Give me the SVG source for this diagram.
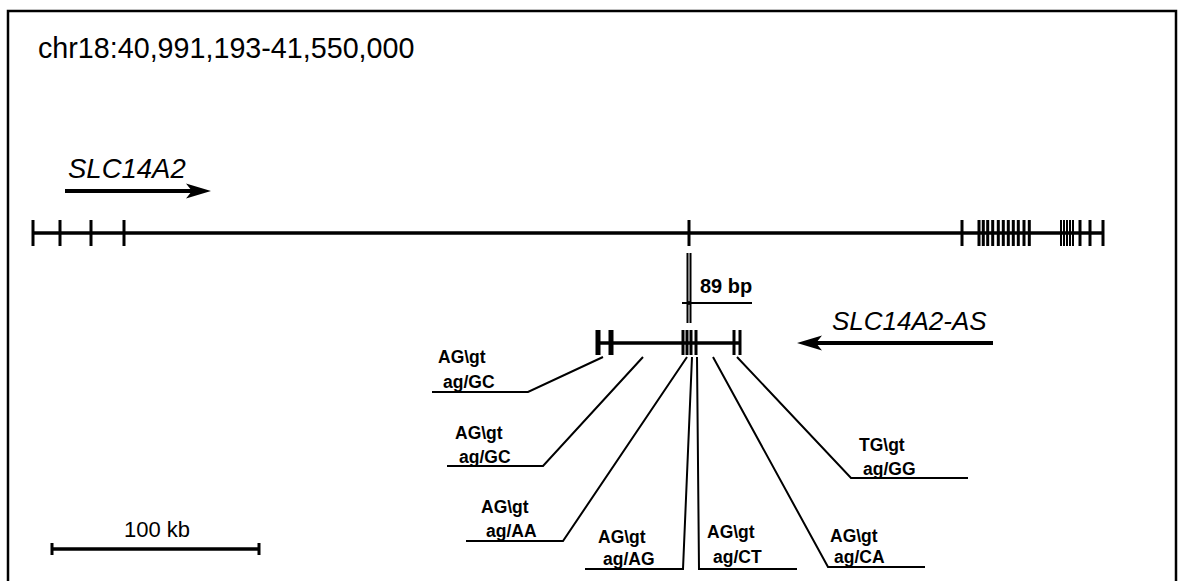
<svg xmlns="http://www.w3.org/2000/svg" width="1178" height="581" viewBox="0 0 1178 581">
<defs>
<style>
.ln{stroke:#000;fill:none}
.main{stroke-width:3.5}
.tk{stroke-width:3}
.thin{stroke-width:2}
.lbl{font-family:"Liberation Sans",Arial,sans-serif;font-weight:bold;font-size:17.5px;fill:#000}
.ital{font-family:"Liberation Sans",Arial,sans-serif;font-style:italic;font-size:26px;fill:#000}
.reg{font-family:"Liberation Sans",Arial,sans-serif;font-size:24px;fill:#000}
.head{fill:#000;stroke:none}
</style>
</defs>
<rect x="0" y="0" width="1178" height="581" fill="#fff"/>
<path class="ln" d="M8,590 V11 H1176 V590" stroke-width="2.5"/>
<text class="reg" x="38" y="58" style="font-size:28.7px">chr18:40,991,193-41,550,000</text>

<g id="SLC14A2">
<text class="ital" x="68" y="178" style="font-size:27.5px">SLC14A2</text>
<line class="ln" x1="65" y1="191" x2="195" y2="191" stroke-width="4"/>
<path class="head" d="M211,191L186,183.5L192,191L186,198.5Z"/>
<line class="ln main" x1="33" y1="233" x2="1103" y2="233"/>
<path class="ln tk" d="M33,220V246M60,220V246M91,220V246M124,220V246M689,220V246M962,220V246M979,220V246M983.3,220V246M987.7,220V246M992.7,220V246M998.3,220V246M1003.3,220V246M1008.3,220V246M1013.3,220V246M1018.3,220V246M1024,220V246M1029.3,220V246M1080,220V246M1090,220V246M1103,220V246"/>
<path class="ln" stroke-width="2" d="M1061,220V246M1064,220V246M1067,220V246M1070,220V246M1073,220V246"/>
</g>

<g id="SLC14A2-AS">
<text class="ital" x="832" y="330">SLC14A2-AS</text>
<line class="ln" x1="993" y1="343" x2="812" y2="343" stroke-width="4"/>
<path class="head" d="M797,343L822,335.5L816,343L822,350.5Z"/>
<line class="ln main" x1="597" y1="343" x2="741" y2="343"/>
<path class="ln" stroke-width="5" d="M598,330V355M611,330V355"/>
<path class="ln" stroke-width="3" d="M683,330V355M687,330V355M691,330V355M696,330V355M734,330V355M740,330V355"/>
</g>

<g id="bp89">
<path class="ln thin" d="M687.5,253V323M690.5,253V323M682,303H752"/>
<circle cx="689" cy="303" r="2" fill="#000"/>
<text class="lbl" x="700" y="293" style="font-size:20px">89 bp</text>
</g>

<g id="connectors">
<path class="ln thin" d="M603,357L528,392H432"/>
<path class="ln thin" d="M643,357L543,466H447"/>
<path class="ln thin" d="M687,357L563,541H466"/>
<path class="ln thin" d="M692,357L683,569H585"/>
<path class="ln thin" d="M697,357L699,569H797"/>
<path class="ln thin" d="M713,357L828,567H925"/>
<path class="ln thin" d="M737,357L851,478H968"/>
</g>

<g id="site1"><text class="lbl" x="438" y="363">AG\gt</text><text class="lbl" x="443" y="388">ag/GC</text></g>
<g id="site2"><text class="lbl" x="455" y="439">AG\gt</text><text class="lbl" x="459" y="463">ag/GC</text></g>
<g id="site3"><text class="lbl" x="481" y="513">AG\gt</text><text class="lbl" x="486" y="537">ag/AA</text></g>
<g id="site4"><text class="lbl" x="598" y="543">AG\gt</text><text class="lbl" x="603" y="565">ag/AG</text></g>
<g id="site5"><text class="lbl" x="707" y="538">AG\gt</text><text class="lbl" x="713" y="563">ag/CT</text></g>
<g id="site6"><text class="lbl" x="830" y="542">AG\gt</text><text class="lbl" x="834" y="563">ag/CA</text></g>
<g id="site7"><text class="lbl" x="859" y="451">TG\gt</text><text class="lbl" x="863" y="475">ag/GG</text></g>

<g id="scale">
<text class="reg" x="157" y="537" text-anchor="middle" style="font-size:22px">100 kb</text>
<path class="ln" stroke-width="3.5" d="M52,549H259"/>
<path class="ln" stroke-width="3" d="M52,543V555M259,543V555"/>
</g>
</svg>
